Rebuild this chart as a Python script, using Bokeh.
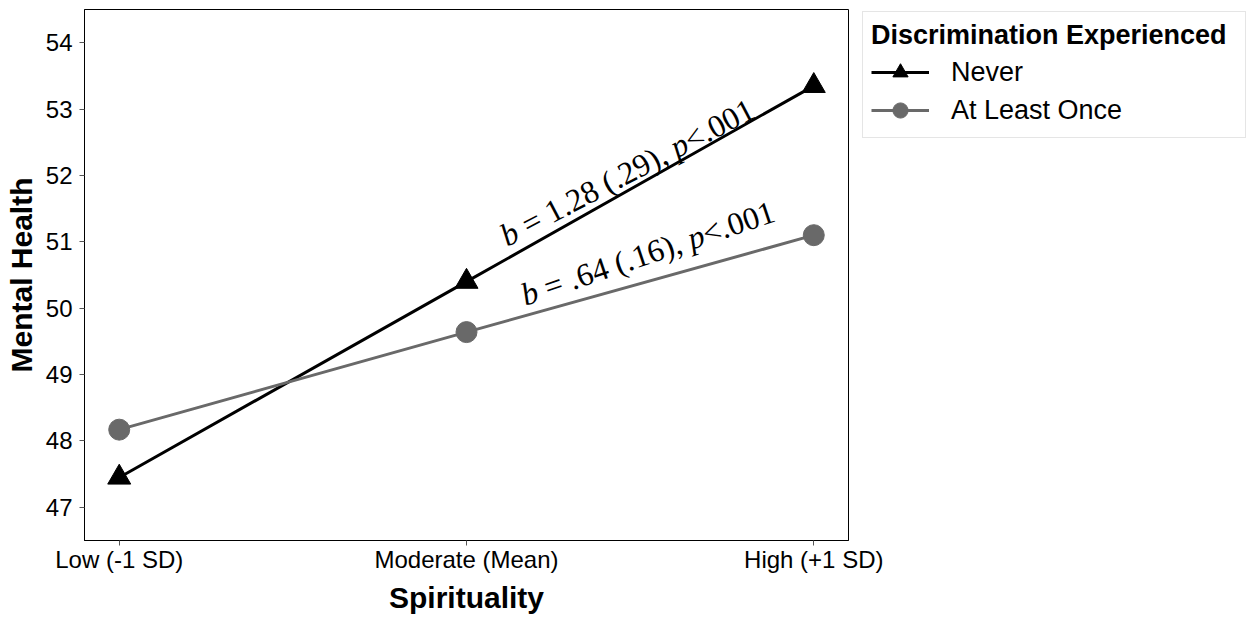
import math
from bokeh.plotting import figure
from bokeh.layouts import row
from bokeh.models import Legend, LegendItem, Label, FixedTicker, Range1d
from bokeh.embed import file_html
from bokeh.resources import INLINE

# ---------------- data ----------------
categories = ["Low (-1 SD)", "Moderate (Mean)", "High (+1 SD)"]
x_pos = [0, 1, 2]
never = [47.45, 50.40, 53.35]
at_least_once = [48.17, 49.64, 51.10]
y_ticks = [47, 48, 49, 50, 51, 52, 53, 54]
series_names = ["Never", "At Least Once"]
legend_title = "Discrimination Experienced"
x_title = "Spirituality"
y_title = "Mental Health"
never_note = ["b", " = 1.28 (.29), ", "p", "<.001"]
once_note = ["b", " = .64 (.16), ", "p", "<.001"]
note_italic = [True, False, True, False]

# ---------------- layout ----------------
X_RANGE = (-0.1, 2.1)
Y_RANGE = (46.5, 54.5)
FRAME_W, FRAME_H = 764, 531
LEFT, TOP = 84, 9
W, H = 1247, 617
MAIN_W = 890                     # main canvas (room for last tick label)
OVERLAP = MAIN_W - LEFT - FRAME_W
LEG_W = W - (LEFT + FRAME_W)     # legend canvas, overlapping main border

SANS = "Liberation Sans"
SERIF = "Liberation Serif"
GRAY = "#696969"

p = figure(width=MAIN_W, height=H, x_range=X_RANGE, y_range=Y_RANGE,
           output_backend="svg", toolbar_location=None,
           min_border_left=LEFT, min_border_top=TOP,
           min_border_right=OVERLAP,
           min_border_bottom=H - TOP - FRAME_H,
           background_fill_color="white", border_fill_color="white")
p.outline_line_color = "black"
p.outline_line_width = 1
p.outline_line_alpha = 1.0
p.grid.visible = False

p.xaxis.ticker = FixedTicker(ticks=x_pos)
p.xaxis.major_label_overrides = {x: c for x, c in zip(x_pos, categories)}
p.yaxis.ticker = FixedTicker(ticks=y_ticks)
p.xaxis.axis_label = x_title
p.yaxis.axis_label = y_title
for ax in (p.xaxis[0], p.yaxis[0]):
    ax.axis_line_color = "black"
    ax.axis_line_width = 1
    ax.major_tick_line_color = "#555555"
    ax.major_tick_line_width = 1
    ax.major_tick_out = 5
    ax.major_tick_in = 0
    ax.minor_tick_line_color = None
    ax.major_label_text_font = SANS
    ax.major_label_text_font_size = "24px"
    ax.major_label_text_color = "black"
    ax.axis_label_text_font = SANS
    ax.axis_label_text_font_size = "30px"
    ax.axis_label_text_font_style = "bold"
    ax.axis_label_text_color = "black"
p.xaxis.major_label_standoff = 0
p.xaxis.axis_label_standoff = 5
p.yaxis.major_label_standoff = 7
p.yaxis.axis_label_standoff = 5


# ---------------- series ----------------
def draw_series(fig):
    a = fig.line(x_pos, never, line_color="black", line_width=3)
    b = fig.scatter(x_pos, never, marker="triangle", size=23,
                    fill_color="black", line_color="black")
    c = fig.line(x_pos, at_least_once, line_color=GRAY, line_width=3)
    d = fig.scatter(x_pos, at_least_once, marker="circle", size=21,
                    fill_color=GRAY, line_color=GRAY)
    return a, b, c, d


draw_series(p)

# ---------------- annotations ----------------
TIMES_W = {" ": 0.25, "=": 0.564, ".": 0.25, ",": 0.25, "(": 0.333,
           ")": 0.333, "<": 0.564, "b": 0.5, "p": 0.5}
FS = 32


def tw(s):
    return sum(TIMES_W.get(ch, 0.5) for ch in s) * FS


def add_note(parts, x0, y0, angle_deg):
    ang = math.radians(angle_deg)
    pos = 0.0
    for part, ital in zip(parts, note_italic):
        core = part.strip()
        lead = part[: len(part) - len(part.lstrip())]
        trail = part[len(part.rstrip()):]
        pos += tw(lead)
        p.add_layout(Label(x=x0, y=y0, text=core,
                           x_offset=pos * math.cos(ang), y_offset=pos * math.sin(ang),
                           angle=ang, text_font=SERIF, text_font_size=f"{FS}px",
                           text_font_style="italic" if ital else "normal",
                           text_color="black", text_baseline="alphabetic",
                           text_align="left"))
        pos += tw(core) + tw(trail)


add_note(never_note, 1.103, 51.07, 27.5)
add_note(once_note, 1.160, 50.19, 18.7)

# ---------------- legend (separate transparent canvas) ----------------
q = figure(width=LEG_W, height=H, x_range=Range1d(10, 11), y_range=Range1d(0, 1),
           output_backend="svg", toolbar_location=None,
           x_axis_location=None, y_axis_location=None,
           min_border_left=4, min_border_top=0, min_border_right=0,
           min_border_bottom=0,
           background_fill_alpha=0, border_fill_alpha=0)
q.outline_line_color = None
q.grid.visible = False
q.margin = (-8, 0, 0, -OVERLAP)
ln, mk_n, lo, mk_o = draw_series(q)   # out of view: only feed the legend

legend = Legend(items=[LegendItem(label=series_names[0], renderers=[ln, mk_n]),
                       LegendItem(label=series_names[1], renderers=[lo, mk_o])],
                location="top_left", title=legend_title,
                title_text_font=SANS, title_text_font_size="27px",
                title_text_font_style="bold", title_text_color="black",
                label_text_font=SANS, label_text_font_size="27px",
                label_text_color="black",
                glyph_width=58, glyph_height=38, label_height=38,
                label_width=286,
                label_standoff=22, spacing=0, padding=8, title_standoff=2,
                margin=10, border_line_color="#cccccc", border_line_width=1,
                background_fill_color="white", background_fill_alpha=1.0)
q.add_layout(legend)

layout = row(p, q)
open("out.html", "w").write(file_html(layout, INLINE))
